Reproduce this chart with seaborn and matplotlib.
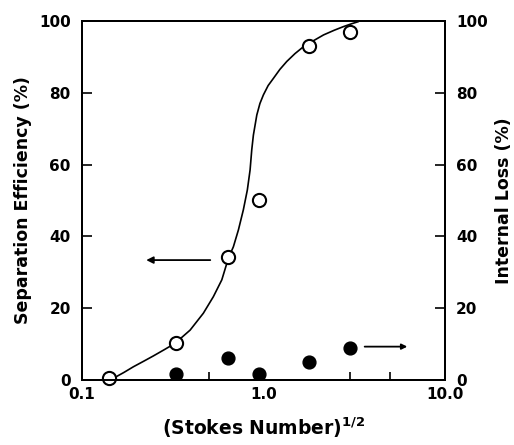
import numpy as np
import pandas as pd
import matplotlib
matplotlib.use('Agg')
import matplotlib.pyplot as plt
import seaborn as sns

# Measured points
stokes = [0.14, 0.328, 0.64, 0.944, 1.77, 3.0]
separation_eff = [0.5, 10.2, 34.2, 50.1, 93.1, 97.0]
loss_stokes = [0.328, 0.64, 0.944, 1.77, 3.0]
internal_loss = [1.7, 6.0, 1.7, 5.1, 9.0]

# Fitted curve
curve_x = [0.14, 0.149, 0.17, 0.192, 0.218, 0.247, 0.285, 0.325, 0.394, 0.466,
           0.529, 0.589, 0.640, 0.682, 0.727, 0.774, 0.814, 0.843, 0.861, 0.879,
           0.918, 0.955, 0.998, 1.06, 1.133, 1.23, 1.342, 1.49, 1.657, 1.9,
           2.14, 2.45, 2.75, 3.05, 3.33]
curve_y = [0.0, 0.5, 2.1, 3.7, 5.2, 6.7, 8.5, 10.2, 13.9, 18.6,
           23.2, 27.9, 33.9, 37.1, 41.8, 47.4, 52.9, 58.5, 64.1, 68.2,
           73.8, 77.0, 79.4, 82.0, 84.0, 86.5, 88.7, 90.9, 92.8, 94.6,
           96.1, 97.4, 98.4, 99.2, 99.8]

sns.set_theme(style='ticks')
plt.rcParams['font.family'] = ['DejaVu Sans']
plt.rcParams['font.weight'] = 'bold'
plt.rcParams['text.color'] = 'black'
plt.rcParams['axes.labelcolor'] = 'black'
plt.rcParams['xtick.color'] = 'black'
plt.rcParams['ytick.color'] = 'black'

fig, ax = plt.subplots(figsize=(5.14, 4.45), dpi=100)
fig.subplots_adjust(left=0.1595, right=0.866, top=0.953, bottom=0.146)
ax2 = ax.twinx()

curve = pd.DataFrame({'x': curve_x, 'y': curve_y})
sns.lineplot(data=curve, x='x', y='y', ax=ax, color='black', linewidth=1.2,
             sort=False, estimator=None)
sep = pd.DataFrame({'x': stokes, 'y': separation_eff})
sns.scatterplot(data=sep, x='x', y='y', ax=ax, marker='o', s=90,
                facecolor='white', edgecolor='black', linewidth=1.5, zorder=5,
                clip_on=False)
loss = pd.DataFrame({'x': loss_stokes, 'y': internal_loss})
sns.scatterplot(data=loss, x='x', y='y', ax=ax2, marker='o', s=85,
                color='black', edgecolor='black', linewidth=1, zorder=5)

for a in (ax, ax2):
    a.set_xscale('log')
    a.set_xlim(0.1, 10)
    a.set_ylim(0, 100)
    a.set_yticks([0, 20, 40, 60, 80, 100])
    a.tick_params(axis='y', direction='in', length=7, width=1.2, labelsize=11,
                  pad=8, colors='black')
    for s in a.spines.values():
        s.set_linewidth(1.4)
        s.set_color('black')

ax.set_xticks([0.1, 1.0, 10.0])
ax.set_xticklabels(['0.1', '1.0', '10.0'])
ax.set_xticks([0.5, 3.0, 5.0], minor=True)
ax.xaxis.set_minor_formatter(matplotlib.ticker.NullFormatter())
ax.tick_params(axis='x', which='both', direction='in', length=6, width=1.2,
               labelsize=11, pad=5, colors='black')
ax2.tick_params(axis='x', which='both', length=0)

for lab in ax.get_xticklabels() + ax.get_yticklabels() + ax2.get_yticklabels():
    lab.set_fontweight('bold')

ax.set_xlabel('(Stokes Number)$^{\\mathbf{1/2}}$', fontsize=13.5, fontweight='bold',
              labelpad=10, color='black')
ax.set_ylabel('Separation Efficiency (%)', fontsize=12.5, fontweight='bold',
              labelpad=5, color='black')
ax2.set_ylabel('Internal Loss (%)', fontsize=12.5, fontweight='bold', labelpad=5,
               color='black')

ax.annotate('', xy=(0.218, 33.4), xytext=(0.527, 33.4),
            arrowprops=dict(arrowstyle='-|>', color='black', lw=1.3,
                            mutation_scale=10))
ax.annotate('', xy=(6.41, 9.3), xytext=(3.48, 9.3),
            arrowprops=dict(arrowstyle='-|>', color='black', lw=1.3,
                            mutation_scale=8))

fig.savefig('out.png', dpi=100)
